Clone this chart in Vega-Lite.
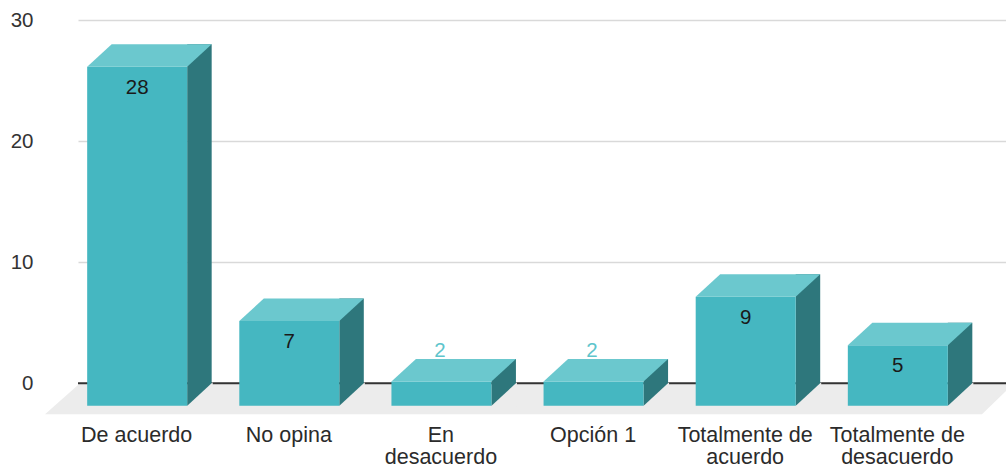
{
  "$schema": "https://vega.github.io/schema/vega-lite/v6.json",
  "width": 928,
  "height": 363.3,
  "autosize": "none",
  "padding": {"left": 78, "top": 20, "right": 0, "bottom": 86.7},
  "background": "white",
  "config": {
    "view": {"stroke": null},
    "font": "Liberation Sans",
    "text": {"font": "Liberation Sans"}
  },
  "data": {
    "values": [
      {"category": "De acuerdo", "value": 28},
      {"category": "No opina", "value": 7},
      {"category": "En desacuerdo", "value": 2},
      {"category": "Opción 1", "value": 2},
      {"category": "Totalmente de acuerdo", "value": 9},
      {"category": "Totalmente de desacuerdo", "value": 5}
    ]
  },
  "encoding": {
    "x": {
      "field": "category",
      "type": "nominal",
      "sort": null,
      "scale": {"paddingInner": 0, "paddingOuter": 0.05},
      "axis": {
        "title": null,
        "domain": false,
        "ticks": false,
        "tickSize": 0,
        "grid": false,
        "labelAngle": 0,
        "labelOffset": -25,
        "labelPadding": 41,
        "labelFontSize": 21.5,
        "labelFont": "Liberation Sans",
        "labelColor": "#2b2b2b",
        "labelLineHeight": 22,
        "labelLimit": 0,
        "labelOverlap": false,
        "zindex": 0,
        "labelExpr": "datum.value == 'En desacuerdo' ? ['En', 'desacuerdo'] : datum.value == 'Totalmente de acuerdo' ? ['Totalmente de', 'acuerdo'] : datum.value == 'Totalmente de desacuerdo' ? ['Totalmente de', 'desacuerdo'] : datum.value"
      }
    }
  },
  "layer": [
    {
      "transform": [{"filter": "datum.category == 'De acuerdo'"}],
      "mark": {
        "type": "point",
        "shape": "M-4.62,0L4.72,0L4.40,0.31L-4.97,0.31Z",
        "size": 40000,
        "filled": true,
        "opacity": 1,
        "color": "#ececec",
        "strokeWidth": 0
      },
      "encoding": {
        "x": null,
        "y": {
          "datum": 0,
          "type": "quantitative",
          "scale": {"domain": [0, 30], "nice": false, "zero": true},
          "axis": {
            "title": null,
            "values": [0, 10, 20, 30],
            "grid": true,
            "gridColor": "#d9d9d9",
            "gridWidth": 1.5,
            "domain": false,
            "ticks": false,
            "tickSize": 0,
            "labelPadding": 45,
            "labelFontSize": 20.5,
            "labelFont": "Liberation Sans",
            "labelColor": "#333333",
            "zindex": 0
          }
        }
      }
    },
    {
      "transform": [{"filter": "datum.category == 'De acuerdo'"}],
      "mark": {"type": "rule", "color": "#333333", "strokeWidth": 2},
      "encoding": {
        "x": null,
        "y": {"datum": 0, "type": "quantitative"}
      }
    },
    {
      "mark": {
        "type": "bar",
        "width": 24.5,
        "xOffset": 37.75,
        "y2Offset": 22.5,
        "color": "#2e777c"
      },
      "encoding": {
        "y": {"field": "value", "type": "quantitative"},
        "y2": {"datum": 0}
      }
    },
    {
      "mark": {
        "type": "point",
        "shape": "M1.02,-0.02L1.02,0.47L0.49,0.47Z",
        "size": 10000,
        "filled": true,
        "opacity": 1,
        "color": "#ececec",
        "strokeWidth": 0
      },
      "encoding": {
        "y": {"datum": 0, "type": "quantitative"}
      }
    },
    {
      "mark": {
        "type": "bar",
        "width": 100,
        "xOffset": -24.5,
        "yOffset": 22.5,
        "y2Offset": 22.5,
        "color": "#45b7c1"
      },
      "encoding": {
        "y": {"field": "value", "type": "quantitative"},
        "y2": {"datum": 0}
      }
    },
    {
      "mark": {
        "type": "point",
        "shape": "M-1.49,0.45L0.51,0.45L1,0L-1,0Z",
        "size": 10000,
        "filled": true,
        "opacity": 1,
        "color": "#6bc8ce",
        "strokeWidth": 0
      },
      "encoding": {
        "y": {"field": "value", "type": "quantitative"}
      }
    },
    {
      "transform": [{"filter": "datum.value >= 3"}],
      "mark": {
        "type": "text",
        "dx": -24.5,
        "dy": 43.5,
        "baseline": "middle",
        "align": "center",
        "fontSize": 20.5,
        "color": "#1a1a1a"
      },
      "encoding": {
        "y": {"field": "value", "type": "quantitative"},
        "text": {"field": "value", "type": "quantitative"}
      }
    },
    {
      "transform": [{"filter": "datum.value < 3"}],
      "mark": {
        "type": "text",
        "dx": -26,
        "dy": -8,
        "baseline": "middle",
        "align": "center",
        "fontSize": 20.5,
        "color": "#5ec5cc"
      },
      "encoding": {
        "y": {"field": "value", "type": "quantitative"},
        "text": {"field": "value", "type": "quantitative"}
      }
    }
  ]
}
